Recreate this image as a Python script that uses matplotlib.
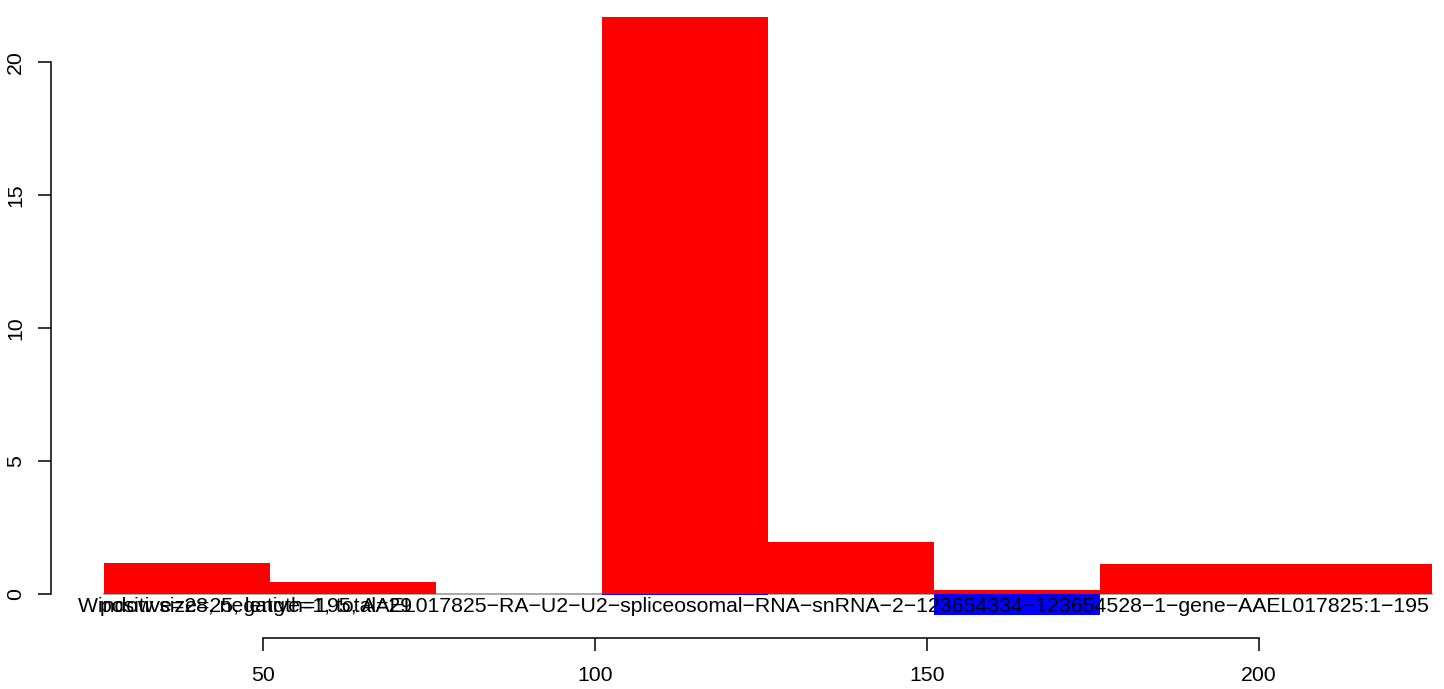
import matplotlib
matplotlib.use("Agg")
import matplotlib.pyplot as plt

# ---- data ----
window_starts = [26, 51, 76, 101, 126, 151, 176, 201]
window_size = 25
positive_vals = [1.17, 0.45, 0.0, 21.7, 1.95, 0.15, 1.12, 1.12]
negative_vals = [0.0, 0.0, 0.0, -0.05, 0.0, -0.79, 0.0, 0.0]
x_ticks = [50, 100, 150, 200]
y_ticks = [0, 5, 10, 15, 20]
label_window = "Window size=25, length=195, AAEL017825-RA-U2-U2-spliceosomal-RNA-snRNA-2-123654334-123654528-1-gene-AAEL017825:1-195"
label_counts = "positive=28, negative=1, total=29"

W, H = 1444, 689
fig = plt.figure(figsize=(W / 100, H / 100), dpi=100)
plt.rcParams['font.family'] = ['Liberation Sans', 'DejaVu Sans']

# axes placement in pixels
left_px, right_px, top_px, bottom_px = 51, 1444, 0, 638
ax = fig.add_axes([left_px / W, 1 - bottom_px / H, (right_px - left_px) / W, (bottom_px - top_px) / H])
ax.patch.set_alpha(0)

pxu = (1259 - 263.3) / 150.0
x0 = 50 - (263.3 - left_px) / pxu
x1 = 50 + (right_px - 263.3) / pxu
pyu = (594 - 62) / 20.0
y0 = -(bottom_px - 594) / pyu
y1 = (594 - top_px) / pyu
ax.set_xlim(x0, x1)
ax.set_ylim(y0, y1)

# zero line
ax.plot([window_starts[0], window_starts[-1] + window_size], [0, 0], color='#999999', lw=1.2, zorder=1)

ax.bar(window_starts, negative_vals, width=window_size, align='edge', color='#0000FF', linewidth=0, zorder=2)
ax.bar(window_starts, positive_vals, width=window_size, align='edge', color='#FF0000', linewidth=0, zorder=2)

def fix(s):
    return s.replace('-', '\u2212')

fs = 15.3
ax.text(123.85, -0.47, fix(label_window), ha='center', va='center', fontsize=fs, zorder=3)
ax.text(25.4, -0.47, fix(label_counts), ha='left', va='center', fontsize=fs, zorder=3)

for s in ['top', 'right']:
    ax.spines[s].set_visible(False)
ax.spines['left'].set_bounds(0, 20)
ax.spines['bottom'].set_bounds(50, 200)
for s in ['left', 'bottom']:
    ax.spines[s].set_linewidth(1.1)
ax.set_xticks(x_ticks)
ax.set_yticks(y_ticks)
ax.set_xticklabels([str(v) for v in x_ticks], fontsize=fs)
ax.set_yticklabels([str(v) for v in y_ticks], fontsize=fs, rotation=90, va='center')
ax.tick_params(axis='both', length=9.5, width=1.1)
ax.tick_params(axis='x', pad=11)
ax.tick_params(axis='y', pad=9)

fig.savefig("out.png", dpi=100)
